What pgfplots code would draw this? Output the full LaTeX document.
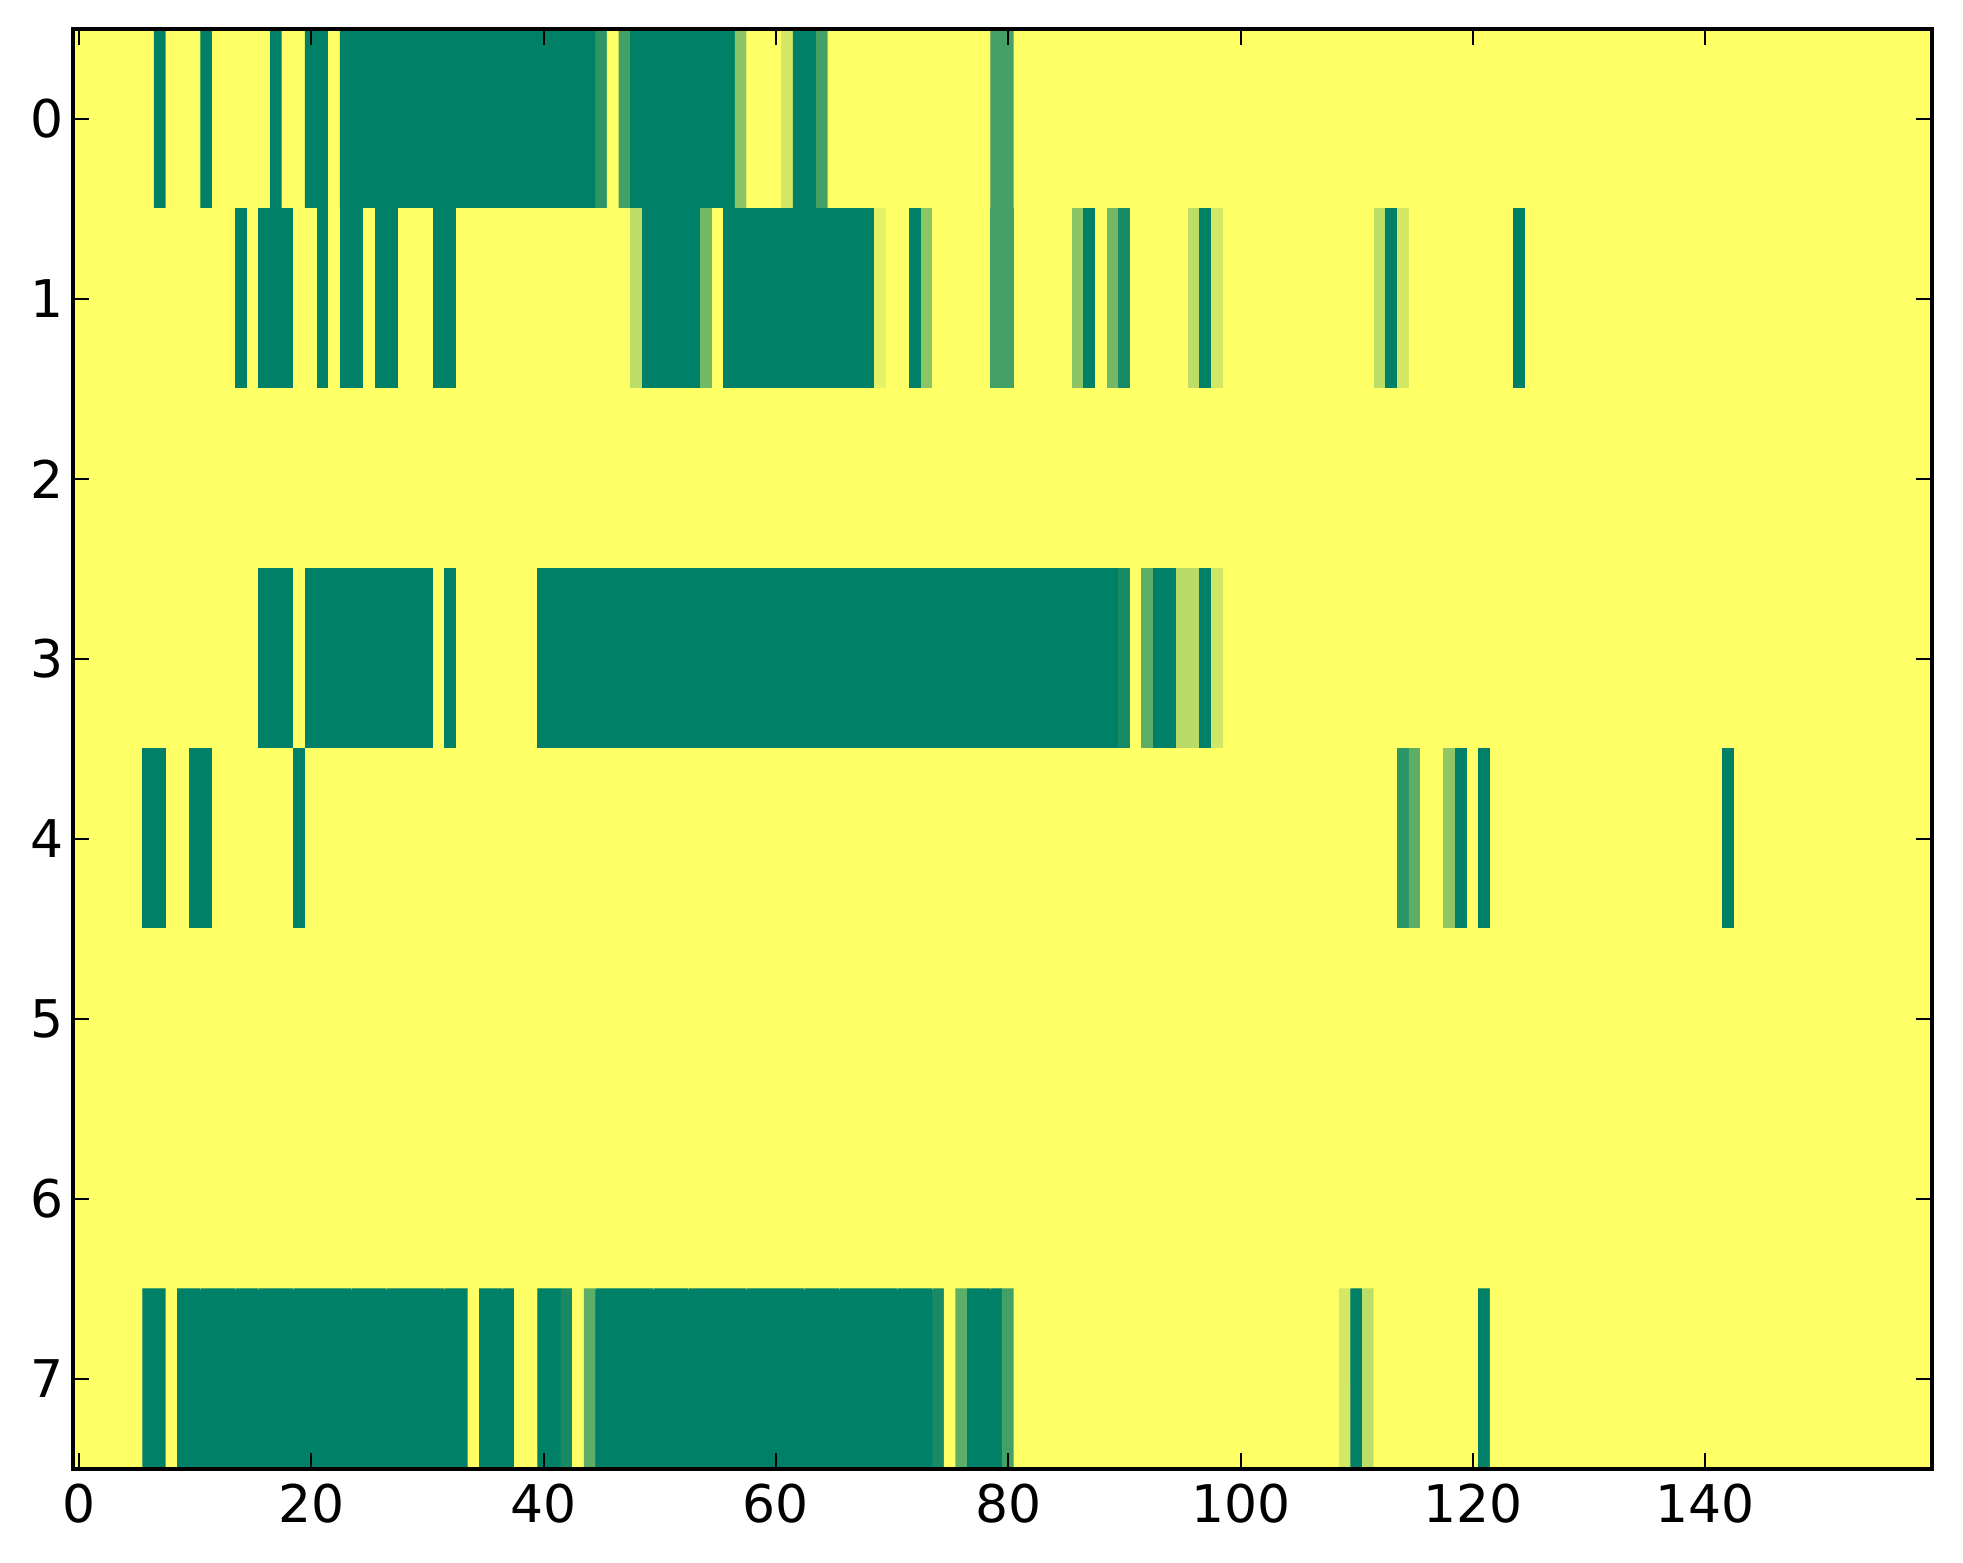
\documentclass[border=0pt]{standalone}
\usepackage{fontspec}
\setmainfont{DejaVu Sans}
\usepackage{pgfplots}
\pgfplotsset{compat=1.18}
\begin{document}
\begin{tikzpicture}
\begin{axis}[
  scale only axis, width=429.3pt, height=332.6pt,
  xmin=-0.5, xmax=159.5, ymin=-0.5, ymax=7.5, y dir=reverse,
  enlargelimits=false, axis on top,
  colormap={summerr}{rgb=(1,1,0.4) rgb=(0,0.5,0.4)},
  point meta min=0, point meta max=1,
  xtick={0,20,...,140}, ytick={0,1,...,7},
  tick align=inside, major tick length=3.6pt,
  tick style={black, line width=0.45pt},
  axis line style={black, line width=0.95pt},
  tick label style={font=\fontsize{12}{14}\selectfont},
  yticklabel style={xshift=1.4pt},
  /pgf/number format/assume math mode=true,
]
\addplot[matrix plot*, mesh/cols=160, point meta=explicit, draw=mapped color, line width=0.25pt] table[row sep=\\, x=x, y=y, meta=c] {
x y c\\
0 0 0\\1 0 0\\2 0 0\\3 0 0\\4 0 0\\5 0 0\\6 0 0\\7 0 1\\8 0 0\\9 0 0\\
10 0 0\\11 0 1\\12 0 0\\13 0 0\\14 0 0\\15 0 0\\16 0 0\\17 0 1\\18 0 0\\19 0 0\\
20 0 1\\21 0 1\\22 0 0\\23 0 1\\24 0 1\\25 0 1\\26 0 1\\27 0 1\\28 0 1\\29 0 1\\
30 0 1\\31 0 1\\32 0 1\\33 0 1\\34 0 1\\35 0 1\\36 0 1\\37 0 1\\38 0 1\\39 0 1\\
40 0 1\\41 0 1\\42 0 1\\43 0 1\\44 0 1\\45 0 0.82\\46 0 0\\47 0 0.73\\48 0 1\\49 0 1\\
50 0 1\\51 0 1\\52 0 1\\53 0 1\\54 0 1\\55 0 1\\56 0 1\\57 0 0.45\\58 0 0\\59 0 0\\
60 0 0\\61 0 0.17\\62 0 1\\63 0 1\\64 0 0.73\\65 0 0\\66 0 0\\67 0 0\\68 0 0\\69 0 0\\
70 0 0\\71 0 0\\72 0 0\\73 0 0\\74 0 0\\75 0 0\\76 0 0\\77 0 0\\78 0 0\\79 0 0.73\\
80 0 0.73\\81 0 0\\82 0 0\\83 0 0\\84 0 0\\85 0 0\\86 0 0\\87 0 0\\88 0 0\\89 0 0\\
90 0 0\\91 0 0\\92 0 0\\93 0 0\\94 0 0\\95 0 0\\96 0 0\\97 0 0\\98 0 0\\99 0 0\\
100 0 0\\101 0 0\\102 0 0\\103 0 0\\104 0 0\\105 0 0\\106 0 0\\107 0 0\\108 0 0\\109 0 0\\
110 0 0\\111 0 0\\112 0 0\\113 0 0\\114 0 0\\115 0 0\\116 0 0\\117 0 0\\118 0 0\\119 0 0\\
120 0 0\\121 0 0\\122 0 0\\123 0 0\\124 0 0\\125 0 0\\126 0 0\\127 0 0\\128 0 0\\129 0 0\\
130 0 0\\131 0 0\\132 0 0\\133 0 0\\134 0 0\\135 0 0\\136 0 0\\137 0 0\\138 0 0\\139 0 0\\
140 0 0\\141 0 0\\142 0 0\\143 0 0\\144 0 0\\145 0 0\\146 0 0\\147 0 0\\148 0 0\\149 0 0\\
150 0 0\\151 0 0\\152 0 0\\153 0 0\\154 0 0\\155 0 0\\156 0 0\\157 0 0\\158 0 0\\159 0 0\\
0 1 0\\1 1 0\\2 1 0\\3 1 0\\4 1 0\\5 1 0\\6 1 0\\7 1 0\\8 1 0\\9 1 0\\
10 1 0\\11 1 0\\12 1 0\\13 1 0\\14 1 1\\15 1 0\\16 1 1\\17 1 1\\18 1 1\\19 1 0\\
20 1 0\\21 1 1\\22 1 0\\23 1 1\\24 1 1\\25 1 0\\26 1 1\\27 1 1\\28 1 0\\29 1 0\\
30 1 0\\31 1 1\\32 1 1\\33 1 0\\34 1 0\\35 1 0\\36 1 0\\37 1 0\\38 1 0\\39 1 0\\
40 1 0\\41 1 0\\42 1 0\\43 1 0\\44 1 0\\45 1 0\\46 1 0\\47 1 0\\48 1 0.26\\49 1 1\\
50 1 1\\51 1 1\\52 1 1\\53 1 1\\54 1 0.54\\55 1 0\\56 1 1\\57 1 1\\58 1 1\\59 1 1\\
60 1 1\\61 1 1\\62 1 1\\63 1 1\\64 1 1\\65 1 1\\66 1 1\\67 1 1\\68 1 1\\69 1 0.1\\
70 1 0\\71 1 0\\72 1 1\\73 1 0.45\\74 1 0\\75 1 0\\76 1 0\\77 1 0\\78 1 0\\79 1 0.73\\
80 1 0.73\\81 1 0\\82 1 0\\83 1 0\\84 1 0\\85 1 0\\86 1 0.45\\87 1 1\\88 1 0\\89 1 0.55\\
90 1 0.9\\91 1 0\\92 1 0\\93 1 0\\94 1 0\\95 1 0\\96 1 0.26\\97 1 1\\98 1 0.17\\99 1 0\\
100 1 0\\101 1 0\\102 1 0\\103 1 0\\104 1 0\\105 1 0\\106 1 0\\107 1 0\\108 1 0\\109 1 0\\
110 1 0\\111 1 0\\112 1 0.26\\113 1 1\\114 1 0.17\\115 1 0\\116 1 0\\117 1 0\\118 1 0\\119 1 0\\
120 1 0\\121 1 0\\122 1 0\\123 1 0\\124 1 1\\125 1 0\\126 1 0\\127 1 0\\128 1 0\\129 1 0\\
130 1 0\\131 1 0\\132 1 0\\133 1 0\\134 1 0\\135 1 0\\136 1 0\\137 1 0\\138 1 0\\139 1 0\\
140 1 0\\141 1 0\\142 1 0\\143 1 0\\144 1 0\\145 1 0\\146 1 0\\147 1 0\\148 1 0\\149 1 0\\
150 1 0\\151 1 0\\152 1 0\\153 1 0\\154 1 0\\155 1 0\\156 1 0\\157 1 0\\158 1 0\\159 1 0\\
0 2 0\\1 2 0\\2 2 0\\3 2 0\\4 2 0\\5 2 0\\6 2 0\\7 2 0\\8 2 0\\9 2 0\\
10 2 0\\11 2 0\\12 2 0\\13 2 0\\14 2 0\\15 2 0\\16 2 0\\17 2 0\\18 2 0\\19 2 0\\
20 2 0\\21 2 0\\22 2 0\\23 2 0\\24 2 0\\25 2 0\\26 2 0\\27 2 0\\28 2 0\\29 2 0\\
30 2 0\\31 2 0\\32 2 0\\33 2 0\\34 2 0\\35 2 0\\36 2 0\\37 2 0\\38 2 0\\39 2 0\\
40 2 0\\41 2 0\\42 2 0\\43 2 0\\44 2 0\\45 2 0\\46 2 0\\47 2 0\\48 2 0\\49 2 0\\
50 2 0\\51 2 0\\52 2 0\\53 2 0\\54 2 0\\55 2 0\\56 2 0\\57 2 0\\58 2 0\\59 2 0\\
60 2 0\\61 2 0\\62 2 0\\63 2 0\\64 2 0\\65 2 0\\66 2 0\\67 2 0\\68 2 0\\69 2 0\\
70 2 0\\71 2 0\\72 2 0\\73 2 0\\74 2 0\\75 2 0\\76 2 0\\77 2 0\\78 2 0\\79 2 0\\
80 2 0\\81 2 0\\82 2 0\\83 2 0\\84 2 0\\85 2 0\\86 2 0\\87 2 0\\88 2 0\\89 2 0\\
90 2 0\\91 2 0\\92 2 0\\93 2 0\\94 2 0\\95 2 0\\96 2 0\\97 2 0\\98 2 0\\99 2 0\\
100 2 0\\101 2 0\\102 2 0\\103 2 0\\104 2 0\\105 2 0\\106 2 0\\107 2 0\\108 2 0\\109 2 0\\
110 2 0\\111 2 0\\112 2 0\\113 2 0\\114 2 0\\115 2 0\\116 2 0\\117 2 0\\118 2 0\\119 2 0\\
120 2 0\\121 2 0\\122 2 0\\123 2 0\\124 2 0\\125 2 0\\126 2 0\\127 2 0\\128 2 0\\129 2 0\\
130 2 0\\131 2 0\\132 2 0\\133 2 0\\134 2 0\\135 2 0\\136 2 0\\137 2 0\\138 2 0\\139 2 0\\
140 2 0\\141 2 0\\142 2 0\\143 2 0\\144 2 0\\145 2 0\\146 2 0\\147 2 0\\148 2 0\\149 2 0\\
150 2 0\\151 2 0\\152 2 0\\153 2 0\\154 2 0\\155 2 0\\156 2 0\\157 2 0\\158 2 0\\159 2 0\\
0 3 0\\1 3 0\\2 3 0\\3 3 0\\4 3 0\\5 3 0\\6 3 0\\7 3 0\\8 3 0\\9 3 0\\
10 3 0\\11 3 0\\12 3 0\\13 3 0\\14 3 0\\15 3 0\\16 3 1\\17 3 1\\18 3 1\\19 3 0\\
20 3 1\\21 3 1\\22 3 1\\23 3 1\\24 3 1\\25 3 1\\26 3 1\\27 3 1\\28 3 1\\29 3 1\\
30 3 1\\31 3 0\\32 3 1\\33 3 0\\34 3 0\\35 3 0\\36 3 0\\37 3 0\\38 3 0\\39 3 0\\
40 3 1\\41 3 1\\42 3 1\\43 3 1\\44 3 1\\45 3 1\\46 3 1\\47 3 1\\48 3 1\\49 3 1\\
50 3 1\\51 3 1\\52 3 1\\53 3 1\\54 3 1\\55 3 1\\56 3 1\\57 3 1\\58 3 1\\59 3 1\\
60 3 1\\61 3 1\\62 3 1\\63 3 1\\64 3 1\\65 3 1\\66 3 1\\67 3 1\\68 3 1\\69 3 1\\
70 3 1\\71 3 1\\72 3 1\\73 3 1\\74 3 1\\75 3 1\\76 3 1\\77 3 1\\78 3 1\\79 3 1\\
80 3 1\\81 3 1\\82 3 1\\83 3 1\\84 3 1\\85 3 1\\86 3 1\\87 3 1\\88 3 1\\89 3 1\\
90 3 0.9\\91 3 0\\92 3 0.63\\93 3 1\\94 3 1\\95 3 0.28\\96 3 0.28\\97 3 1\\98 3 0.19\\99 3 0\\
100 3 0\\101 3 0\\102 3 0\\103 3 0\\104 3 0\\105 3 0\\106 3 0\\107 3 0\\108 3 0\\109 3 0\\
110 3 0\\111 3 0\\112 3 0\\113 3 0\\114 3 0\\115 3 0\\116 3 0\\117 3 0\\118 3 0\\119 3 0\\
120 3 0\\121 3 0\\122 3 0\\123 3 0\\124 3 0\\125 3 0\\126 3 0\\127 3 0\\128 3 0\\129 3 0\\
130 3 0\\131 3 0\\132 3 0\\133 3 0\\134 3 0\\135 3 0\\136 3 0\\137 3 0\\138 3 0\\139 3 0\\
140 3 0\\141 3 0\\142 3 0\\143 3 0\\144 3 0\\145 3 0\\146 3 0\\147 3 0\\148 3 0\\149 3 0\\
150 3 0\\151 3 0\\152 3 0\\153 3 0\\154 3 0\\155 3 0\\156 3 0\\157 3 0\\158 3 0\\159 3 0\\
0 4 0\\1 4 0\\2 4 0\\3 4 0\\4 4 0\\5 4 0\\6 4 1\\7 4 1\\8 4 0\\9 4 0\\
10 4 1\\11 4 1\\12 4 0\\13 4 0\\14 4 0\\15 4 0\\16 4 0\\17 4 0\\18 4 0\\19 4 1\\
20 4 0\\21 4 0\\22 4 0\\23 4 0\\24 4 0\\25 4 0\\26 4 0\\27 4 0\\28 4 0\\29 4 0\\
30 4 0\\31 4 0\\32 4 0\\33 4 0\\34 4 0\\35 4 0\\36 4 0\\37 4 0\\38 4 0\\39 4 0\\
40 4 0\\41 4 0\\42 4 0\\43 4 0\\44 4 0\\45 4 0\\46 4 0\\47 4 0\\48 4 0\\49 4 0\\
50 4 0\\51 4 0\\52 4 0\\53 4 0\\54 4 0\\55 4 0\\56 4 0\\57 4 0\\58 4 0\\59 4 0\\
60 4 0\\61 4 0\\62 4 0\\63 4 0\\64 4 0\\65 4 0\\66 4 0\\67 4 0\\68 4 0\\69 4 0\\
70 4 0\\71 4 0\\72 4 0\\73 4 0\\74 4 0\\75 4 0\\76 4 0\\77 4 0\\78 4 0\\79 4 0\\
80 4 0\\81 4 0\\82 4 0\\83 4 0\\84 4 0\\85 4 0\\86 4 0\\87 4 0\\88 4 0\\89 4 0\\
90 4 0\\91 4 0\\92 4 0\\93 4 0\\94 4 0\\95 4 0\\96 4 0\\97 4 0\\98 4 0\\99 4 0\\
100 4 0\\101 4 0\\102 4 0\\103 4 0\\104 4 0\\105 4 0\\106 4 0\\107 4 0\\108 4 0\\109 4 0\\
110 4 0\\111 4 0\\112 4 0\\113 4 0\\114 4 0.82\\115 4 0.63\\116 4 0\\117 4 0\\118 4 0.44\\119 4 1\\
120 4 0\\121 4 1\\122 4 0\\123 4 0\\124 4 0\\125 4 0\\126 4 0\\127 4 0\\128 4 0\\129 4 0\\
130 4 0\\131 4 0\\132 4 0\\133 4 0\\134 4 0\\135 4 0\\136 4 0\\137 4 0\\138 4 0\\139 4 0\\
140 4 0\\141 4 0\\142 4 1\\143 4 0\\144 4 0\\145 4 0\\146 4 0\\147 4 0\\148 4 0\\149 4 0\\
150 4 0\\151 4 0\\152 4 0\\153 4 0\\154 4 0\\155 4 0\\156 4 0\\157 4 0\\158 4 0\\159 4 0\\
0 5 0\\1 5 0\\2 5 0\\3 5 0\\4 5 0\\5 5 0\\6 5 0\\7 5 0\\8 5 0\\9 5 0\\
10 5 0\\11 5 0\\12 5 0\\13 5 0\\14 5 0\\15 5 0\\16 5 0\\17 5 0\\18 5 0\\19 5 0\\
20 5 0\\21 5 0\\22 5 0\\23 5 0\\24 5 0\\25 5 0\\26 5 0\\27 5 0\\28 5 0\\29 5 0\\
30 5 0\\31 5 0\\32 5 0\\33 5 0\\34 5 0\\35 5 0\\36 5 0\\37 5 0\\38 5 0\\39 5 0\\
40 5 0\\41 5 0\\42 5 0\\43 5 0\\44 5 0\\45 5 0\\46 5 0\\47 5 0\\48 5 0\\49 5 0\\
50 5 0\\51 5 0\\52 5 0\\53 5 0\\54 5 0\\55 5 0\\56 5 0\\57 5 0\\58 5 0\\59 5 0\\
60 5 0\\61 5 0\\62 5 0\\63 5 0\\64 5 0\\65 5 0\\66 5 0\\67 5 0\\68 5 0\\69 5 0\\
70 5 0\\71 5 0\\72 5 0\\73 5 0\\74 5 0\\75 5 0\\76 5 0\\77 5 0\\78 5 0\\79 5 0\\
80 5 0\\81 5 0\\82 5 0\\83 5 0\\84 5 0\\85 5 0\\86 5 0\\87 5 0\\88 5 0\\89 5 0\\
90 5 0\\91 5 0\\92 5 0\\93 5 0\\94 5 0\\95 5 0\\96 5 0\\97 5 0\\98 5 0\\99 5 0\\
100 5 0\\101 5 0\\102 5 0\\103 5 0\\104 5 0\\105 5 0\\106 5 0\\107 5 0\\108 5 0\\109 5 0\\
110 5 0\\111 5 0\\112 5 0\\113 5 0\\114 5 0\\115 5 0\\116 5 0\\117 5 0\\118 5 0\\119 5 0\\
120 5 0\\121 5 0\\122 5 0\\123 5 0\\124 5 0\\125 5 0\\126 5 0\\127 5 0\\128 5 0\\129 5 0\\
130 5 0\\131 5 0\\132 5 0\\133 5 0\\134 5 0\\135 5 0\\136 5 0\\137 5 0\\138 5 0\\139 5 0\\
140 5 0\\141 5 0\\142 5 0\\143 5 0\\144 5 0\\145 5 0\\146 5 0\\147 5 0\\148 5 0\\149 5 0\\
150 5 0\\151 5 0\\152 5 0\\153 5 0\\154 5 0\\155 5 0\\156 5 0\\157 5 0\\158 5 0\\159 5 0\\
0 6 0\\1 6 0\\2 6 0\\3 6 0\\4 6 0\\5 6 0\\6 6 0\\7 6 0\\8 6 0\\9 6 0\\
10 6 0\\11 6 0\\12 6 0\\13 6 0\\14 6 0\\15 6 0\\16 6 0\\17 6 0\\18 6 0\\19 6 0\\
20 6 0\\21 6 0\\22 6 0\\23 6 0\\24 6 0\\25 6 0\\26 6 0\\27 6 0\\28 6 0\\29 6 0\\
30 6 0\\31 6 0\\32 6 0\\33 6 0\\34 6 0\\35 6 0\\36 6 0\\37 6 0\\38 6 0\\39 6 0\\
40 6 0\\41 6 0\\42 6 0\\43 6 0\\44 6 0\\45 6 0\\46 6 0\\47 6 0\\48 6 0\\49 6 0\\
50 6 0\\51 6 0\\52 6 0\\53 6 0\\54 6 0\\55 6 0\\56 6 0\\57 6 0\\58 6 0\\59 6 0\\
60 6 0\\61 6 0\\62 6 0\\63 6 0\\64 6 0\\65 6 0\\66 6 0\\67 6 0\\68 6 0\\69 6 0\\
70 6 0\\71 6 0\\72 6 0\\73 6 0\\74 6 0\\75 6 0\\76 6 0\\77 6 0\\78 6 0\\79 6 0\\
80 6 0\\81 6 0\\82 6 0\\83 6 0\\84 6 0\\85 6 0\\86 6 0\\87 6 0\\88 6 0\\89 6 0\\
90 6 0\\91 6 0\\92 6 0\\93 6 0\\94 6 0\\95 6 0\\96 6 0\\97 6 0\\98 6 0\\99 6 0\\
100 6 0\\101 6 0\\102 6 0\\103 6 0\\104 6 0\\105 6 0\\106 6 0\\107 6 0\\108 6 0\\109 6 0\\
110 6 0\\111 6 0\\112 6 0\\113 6 0\\114 6 0\\115 6 0\\116 6 0\\117 6 0\\118 6 0\\119 6 0\\
120 6 0\\121 6 0\\122 6 0\\123 6 0\\124 6 0\\125 6 0\\126 6 0\\127 6 0\\128 6 0\\129 6 0\\
130 6 0\\131 6 0\\132 6 0\\133 6 0\\134 6 0\\135 6 0\\136 6 0\\137 6 0\\138 6 0\\139 6 0\\
140 6 0\\141 6 0\\142 6 0\\143 6 0\\144 6 0\\145 6 0\\146 6 0\\147 6 0\\148 6 0\\149 6 0\\
150 6 0\\151 6 0\\152 6 0\\153 6 0\\154 6 0\\155 6 0\\156 6 0\\157 6 0\\158 6 0\\159 6 0\\
0 7 0\\1 7 0\\2 7 0\\3 7 0\\4 7 0\\5 7 0\\6 7 1\\7 7 1\\8 7 0\\9 7 1\\
10 7 1\\11 7 1\\12 7 1\\13 7 1\\14 7 1\\15 7 1\\16 7 1\\17 7 1\\18 7 1\\19 7 1\\
20 7 1\\21 7 1\\22 7 1\\23 7 1\\24 7 1\\25 7 1\\26 7 1\\27 7 1\\28 7 1\\29 7 1\\
30 7 1\\31 7 1\\32 7 1\\33 7 1\\34 7 0\\35 7 1\\36 7 1\\37 7 1\\38 7 0\\39 7 0\\
40 7 1\\41 7 1\\42 7 0.9\\43 7 0\\44 7 0.63\\45 7 1\\46 7 1\\47 7 1\\48 7 1\\49 7 1\\
50 7 1\\51 7 1\\52 7 1\\53 7 1\\54 7 1\\55 7 1\\56 7 1\\57 7 1\\58 7 1\\59 7 1\\
60 7 1\\61 7 1\\62 7 1\\63 7 1\\64 7 1\\65 7 1\\66 7 1\\67 7 1\\68 7 1\\69 7 1\\
70 7 1\\71 7 1\\72 7 1\\73 7 1\\74 7 0.9\\75 7 0\\76 7 0.63\\77 7 1\\78 7 1\\79 7 1\\
80 7 0.73\\81 7 0\\82 7 0\\83 7 0\\84 7 0\\85 7 0\\86 7 0\\87 7 0\\88 7 0\\89 7 0\\
90 7 0\\91 7 0\\92 7 0\\93 7 0\\94 7 0\\95 7 0\\96 7 0\\97 7 0\\98 7 0\\99 7 0\\
100 7 0\\101 7 0\\102 7 0\\103 7 0\\104 7 0\\105 7 0\\106 7 0\\107 7 0\\108 7 0\\109 7 0.17\\
110 7 1\\111 7 0.26\\112 7 0\\113 7 0\\114 7 0\\115 7 0\\116 7 0\\117 7 0\\118 7 0\\119 7 0\\
120 7 0\\121 7 1\\122 7 0\\123 7 0\\124 7 0\\125 7 0\\126 7 0\\127 7 0\\128 7 0\\129 7 0\\
130 7 0\\131 7 0\\132 7 0\\133 7 0\\134 7 0\\135 7 0\\136 7 0\\137 7 0\\138 7 0\\139 7 0\\
140 7 0\\141 7 0\\142 7 0\\143 7 0\\144 7 0\\145 7 0\\146 7 0\\147 7 0\\148 7 0\\149 7 0\\
150 7 0\\151 7 0\\152 7 0\\153 7 0\\154 7 0\\155 7 0\\156 7 0\\157 7 0\\158 7 0\\159 7 0\\
};
\end{axis}
\pgfresetboundingbox
\path ([shift={(-16.9pt,-21.7pt)}]current axis.south west) rectangle ([shift={(7.2pt,6.7pt)}]current axis.north east);
\end{tikzpicture}
\end{document}
